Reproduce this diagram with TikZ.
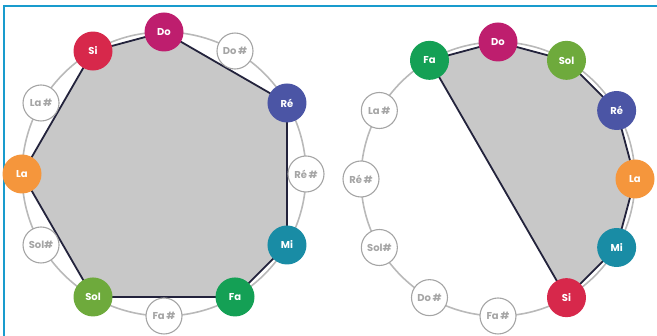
\documentclass[tikz,border=0pt]{standalone}
\usepackage{fontspec}
\setsansfont{Poppins}
\usepackage{tikz}
\usetikzlibrary{calc, backgrounds}
\definecolor{docol}{RGB}{190,30,110}
\definecolor{sicol}{RGB}{215,40,75}
\definecolor{recol}{RGB}{75,85,165}
\definecolor{lacol}{RGB}{245,150,60}
\definecolor{micol}{RGB}{25,140,165}
\definecolor{facol}{RGB}{20,160,85}
\definecolor{solcol}{RGB}{110,170,60}
\definecolor{ringgray}{RGB}{185,185,185}
\definecolor{sharpgray}{RGB}{165,165,165}
\definecolor{polyfill}{RGB}{200,200,200}
\definecolor{polyline}{RGB}{35,35,60}
\definecolor{framecol}{RGB}{25,155,205}

\begin{document}
\begin{tikzpicture}[
    x=1pt, y=1pt, font=\sffamily\bfseries\fontsize{10}{11}\selectfont,
    note/.style={circle, fill=#1, draw=none, text=white,
                 inner sep=0pt, minimum size=39pt},
    snote/.style={circle, fill=white, draw=sharpgray, line width=1.1pt,
                  text=sharpgray, inner sep=0pt, minimum size=36pt},
    ring/.style={draw=ringgray, line width=1.6pt},
    poly/.style={draw=polyline, line width=1.8pt, fill=polyfill,
                 line join=round},
    frame/.style={draw=framecol, line width=2pt},
]
\useasboundingbox (0,0) rectangle (657,336);

%% --- frame (top and left edges only) ---
\coordinate (fbl) at (3.5,0);
\coordinate (ftr) at (657,329.5);
\draw[frame] (fbl) |- (ftr);

%% --- left circle: chromatic order ---
\coordinate (lc) at (164,162);

\node[note=docol]  (ldo)  at ($(lc)+(90:142)$)   {Do};
\node[snote]       (ldos) at ($(lc)+(60:142)$)   {Do\,\#};
\node[note=recol]  (lre)  at ($(lc)+(30:142)$)   {Ré};
\node[snote]       (lres) at ($(lc)+(0:142)$)    {Ré\,\#};
\node[note=micol]  (lmi)  at ($(lc)+(-30:142)$)  {Mi};
\node[note=facol]  (lfa)  at ($(lc)+(-60:142)$)  {Fa};
\node[snote]       (lfas) at ($(lc)+(-90:142)$)  {Fa\,\#};
\node[note=solcol] (lsol) at ($(lc)+(-120:142)$) {Sol};
\node[snote]       (lsols)at ($(lc)+(-150:142)$) {Sol\#};
\node[note=lacol]  (lla)  at ($(lc)+(180:142)$)  {La};
\node[snote]       (llas) at ($(lc)+(150:142)$)  {La\,\#};
\node[note=sicol]  (lsi)  at ($(lc)+(120:142)$)  {Si};

%% --- right circle: circle of fifths ---
\coordinate (rc) at (498,157);

\node[note=docol]  (rdo)  at ($(rc)+(90:137)$)   {Do};
\node[note=solcol] (rsol) at ($(rc)+(60:137)$)   {Sol};
\node[note=recol]  (rre)  at ($(rc)+(30:137)$)   {Ré};
\node[note=lacol]  (rla)  at ($(rc)+(0:137)$)    {La};
\node[note=micol]  (rmi)  at ($(rc)+(-30:137)$)  {Mi};
\node[note=sicol]  (rsi)  at ($(rc)+(-60:137)$)  {Si};
\node[snote]       (rfas) at ($(rc)+(-90:137)$)  {Fa\,\#};
\node[snote]       (rdos) at ($(rc)+(-120:137)$) {Do\,\#};
\node[snote]       (rsols)at ($(rc)+(-150:137)$) {Sol\#};
\node[snote]       (rres) at ($(rc)+(180:137)$)  {Ré\,\#};
\node[snote]       (rlas) at ($(rc)+(150:137)$)  {La\,\#};
\node[note=facol]  (rfa)  at ($(rc)+(120:137)$)  {Fa};

%% --- rings and diatonic polygons, behind the notes ---
\begin{scope}[on background layer]
  \draw[ring] (lc) circle (142);
  \draw[ring] (rc) circle (137);
  \draw[poly] (ldo.center) -- (lre.center) -- (lmi.center) -- (lfa.center)
      -- (lsol.center) -- (lla.center) -- (lsi.center) -- cycle;
  \draw[poly] (rfa.center) -- (rdo.center) -- (rsol.center) -- (rre.center)
      -- (rla.center) -- (rmi.center) -- (rsi.center) -- cycle;
\end{scope}
\end{tikzpicture}
\end{document}
